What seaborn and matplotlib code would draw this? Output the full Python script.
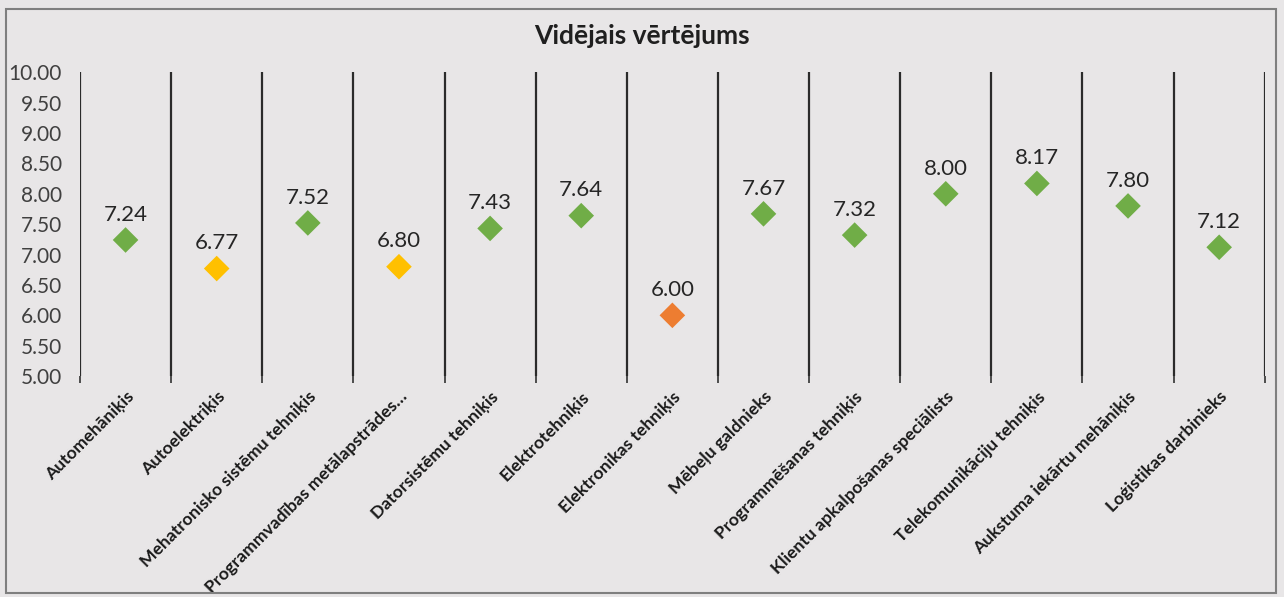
import matplotlib
matplotlib.use("Agg")
import matplotlib.pyplot as plt
import numpy as np
import pandas as pd
import seaborn as sns
from matplotlib.patches import Rectangle

# ---- data ------------------------------------------------------------------
professions = [
    "Automehāniķis",
    "Autoelektriķis",
    "Mehatronisko sistēmu tehniķis",
    "Programmvadības metālapstrādes…",
    "Datorsistēmu tehniķis",
    "Elektrotehniķis",
    "Elektronikas tehniķis",
    "Mēbeļu galdnieks",
    "Programmēšanas tehniķis",
    "Klientu apkalpošanas speciālists",
    "Telekomunikāciju tehniķis",
    "Aukstuma iekārtu mehāniķis",
    "Loģistikas darbinieks",
]
avg_score = [7.24, 6.77, 7.52, 6.80, 7.43, 7.64, 6.00, 7.67, 7.32, 8.00, 8.17, 7.80, 7.12]
score_group = ["high", "mid", "high", "mid", "high", "high", "low",
               "high", "high", "high", "high", "high", "high"]
y_ticks = [5.0, 5.5, 6.0, 6.5, 7.0, 7.5, 8.0, 8.5, 9.0, 9.5, 10.0]

palette = {"high": "#70AD47", "mid": "#FFC000", "low": "#ED7D31"}
BG = "#E8E6E7"

sns.set_theme(style="white")
plt.rcParams["font.family"] = ["Lato", "DejaVu Sans"]

df = pd.DataFrame({"prof": professions, "score": avg_score, "grp": score_group})
df["x"] = np.arange(len(df))

fig = plt.figure(figsize=(12.84, 5.97), dpi=100, facecolor=BG)
ax = fig.add_axes([0.0623, 0.370, 0.9227, 0.509])
ax.set_facecolor(BG)

sns.scatterplot(data=df, x="x", y="score", hue="grp", palette=palette,
                marker="D", s=170, edgecolor="none", legend=False, ax=ax, zorder=3)

for _, r in df.iterrows():
    ax.annotate(f"{r.score:.2f}", (r.x, r.score), xytext=(0, 11),
                textcoords="offset points", ha="center", va="bottom",
                fontsize=16, color="#262626")

ax.set_xlim(-0.5, len(df) - 0.5)
ax.set_ylim(5, 10)
ax.set_yticks(y_ticks)
ax.set_yticklabels([f"{v:.2f}" for v in y_ticks], fontsize=15, color="#404040")
ax.set_xticks(df["x"])
ax.set_xticklabels(df["prof"], rotation=45, ha="right", rotation_mode="anchor",
                   fontsize=12.6, fontweight="bold", color="#1a1a1a")
ax.set_xticks(np.arange(-0.5, len(df)), minor=True)
ax.tick_params(axis="x", which="major", length=0, pad=9)
ax.tick_params(axis="x", which="minor", length=5, width=1.3, color="#404040",
               direction="out", bottom=True)
ax.tick_params(axis="y", length=0, pad=13)
ax.grid(False)
ax.grid(True, axis="x", which="minor", color="#2b2b2b", lw=1.6)
for s in ax.spines.values():
    s.set_visible(False)
ax.set_xlabel("")
ax.set_ylabel("")

fig.text(0.5, 0.94, "Vidējais vērtējums", ha="center", va="center",
         fontsize=19, fontweight="bold", color="#1f1f1f")
fig.patches.append(Rectangle((0.005, 0.007), 0.989, 0.978, transform=fig.transFigure,
                             fill=False, edgecolor="#7f7f7f", lw=1.5))

fig.savefig("out.png", dpi=100, facecolor=BG)
